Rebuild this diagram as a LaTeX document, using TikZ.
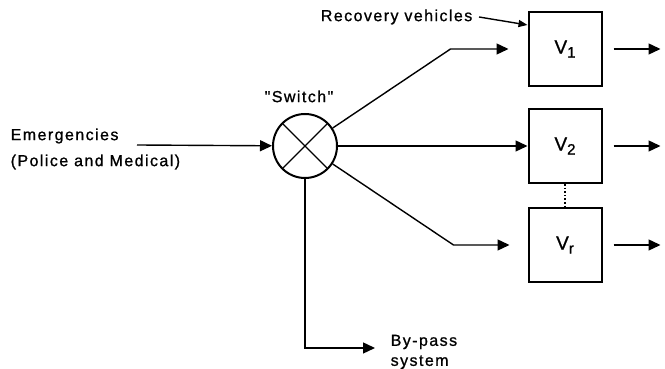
\documentclass[tikz,border=0pt]{standalone}
\usepackage{fontspec}
\setmainfont{Liberation Sans}[LetterSpace=9,FakeBold=1]
\usetikzlibrary{arrows.meta}
\usetikzlibrary{calc}
\usetikzlibrary{positioning}

\newcommand{\vsub}[1]{V\raisebox{-4pt}{\fontsize{15}{15}\selectfont #1}}

\begin{document}
\begin{tikzpicture}[->,>={Triangle[length=12pt,width=11pt]},x=1pt,y=1pt,
  line width=1.4pt,node distance=21pt,
  box node/.style={rectangle,draw,line width=2pt,minimum width=73pt,minimum height=74pt,font=\fontsize{19}{19}\selectfont},
  switch node/.style={circle,draw,line width=2pt,minimum size=64pt,inner sep=0pt},
  label node/.style={align=left,inner sep=0pt,font=\fontsize{16}{26}\selectfont}]

  \useasboundingbox (0,0) rectangle (665,369);

  \node[switch node] (sw) at (305,223) {};
  \node[box node] (v2) at (565,223) {\vsub{2}};
  \node[box node] (v1) [above=of v2] {\vsub{1}};
  \node[box node] (vr) [below=23pt of v2] {\vsub{r}};

  \node[label node,anchor=west] (emg) at (10,220) {Emergencies\\(Police and Medical)};
  \node[label node] (swl) [above=10pt of sw,xshift=-6pt] {\addfontfeatures{Ligatures=TeXOff}"Switch"};
  \node[label node,anchor=east] (rec) at (473,352) {Recovery vehicles};
  \node[label node,anchor=west,font=\fontsize{16}{20}\selectfont] (byp) at (390,17) {By-pass\\system};

  \coordinate (ein) at (137,224);
  \coordinate (b1) at ([xshift=-77pt]v1.west);
  \coordinate (br) at ([xshift=-74pt]vr.west);
  \coordinate (bp) at (375,21);

  % cross in the switch
  \draw[-,shorten <=1pt,shorten >=1pt] (sw.north west) -- (sw.south east);
  \draw[-,shorten <=1pt,shorten >=1pt] (sw.north east) -- (sw.south west);

  \draw (ein) -- (sw);
  \draw (sw.33) -- (b1) -- ([xshift=-19pt]v1.west);
  \draw (sw) -- (v2);
  \draw (sw.-33) -- (br) -- ([xshift=-18pt]vr.west);
  \draw (sw.south) |- (bp);
  \draw[-{Triangle[length=9pt,width=7pt]}] ([xshift=6pt]rec.east) -- ([yshift=-14pt]v1.north west);
  \draw[-,dotted,line width=1.6pt] (v2) -- (vr);

  \foreach \v in {v1,v2,vr}
    \draw ([xshift=11pt]\v.east) -- ++(47,0);
\end{tikzpicture}
\end{document}
